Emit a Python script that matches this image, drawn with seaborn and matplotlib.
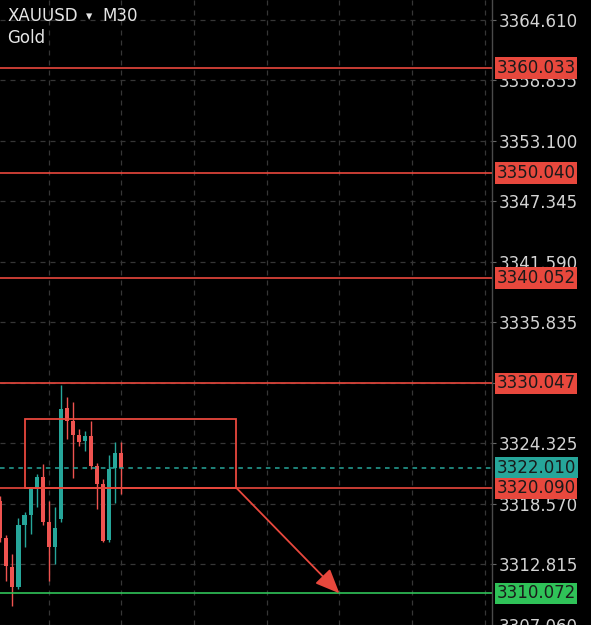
import numpy as np
import pandas as pd
import seaborn as sns
import matplotlib.pyplot as plt
from matplotlib.patches import Rectangle
import matplotlib.transforms as mtransforms

# Candles (30 min)
opens = [3318.84, 3315.32, 3312.57, 3310.67, 3316.56, 3317.50, 3319.97, 3321.10, 3316.84, 3314.47, 3317.13,
         3327.67, 3326.43, 3325.10, 3324.53, 3325.00, 3322.16, 3320.45, 3315.13, 3321.97, 3323.39]
highs = [3319.30, 3315.60, 3313.80, 3317.20, 3317.80, 3320.20, 3321.40, 3322.35, 3318.84, 3318.26, 3329.85,
         3328.71, 3328.24, 3325.70, 3325.48, 3326.43, 3322.50, 3320.90, 3323.20, 3324.44, 3324.44]
lows = [3315.00, 3311.24, 3308.90, 3310.50, 3314.47, 3315.70, 3318.30, 3316.60, 3311.24, 3312.85, 3316.84,
        3324.72, 3321.00, 3324.06, 3323.58, 3321.90, 3318.08, 3314.94, 3315.00, 3318.65, 3319.50]
closes = [3315.32, 3312.66, 3310.67, 3316.56, 3317.50, 3319.97, 3321.10, 3316.84, 3314.47, 3316.27, 3327.57,
          3326.43, 3325.10, 3324.44, 3325.00, 3322.16, 3320.45, 3315.04, 3321.87, 3323.39, 3322.01]

# Levels drawn on the chart
red_levels = [3360.033, 3350.040, 3340.052, 3330.047, 3320.090]
support_level = 3310.072
last_price = 3322.010

# Price scale ticks
tick_values = [3364.610, 3358.855, 3353.100, 3347.345, 3341.590, 3335.835,
               3330.080, 3324.325, 3318.570, 3312.815, 3307.060]

# Box + arrow drawing (bar index, price)
box_x = [4, 39]
box_y = [3320.090, 3326.620]
arrow_end = (56, 3310.072)

RED = "#ef5350"
LINE_RED = "#e8483d"
TEAL = "#26a69a"
GREEN = "#2fc258"
GRID = "#363636"
TXT = "#d4d4d4"

sns.set_theme(style="dark", rc={"axes.facecolor": "black", "figure.facecolor": "black",
                                 "axes.edgecolor": "#555555"})
plt.rcParams['font.family'] = ['DejaVu Sans']

df = pd.DataFrame({'open': opens, 'high': highs, 'low': lows, 'close': closes})
df['id'] = np.arange(len(df))
df['up'] = df['close'] >= df['open']
df['color'] = np.where(df['up'], TEAL, RED)

fig = plt.figure(figsize=(5.91, 6.25), dpi=100)
ax = fig.add_axes([0, 0, 492 / 591, 1])
ax.set_facecolor("black")

# grid
for gx in range(8, 82, 12):
    ax.axvline(gx, color=GRID, lw=0.9, ls=(0, (4, 4)), zorder=0)
for ty in tick_values:
    ax.axhline(ty, color=GRID, lw=0.9, ls=(0, (4, 4)), zorder=0)

# wicks + bodies
ax.vlines(df['id'], df['low'], df['high'], colors=df['color'], lw=1.0, zorder=2)
body_lo = df[['open', 'close']].min(axis=1)
body_h = (df['open'] - df['close']).abs().clip(lower=0.08)
ax.bar(df['id'], body_h, bottom=body_lo, width=0.68, color=df['color'], linewidth=0, zorder=3)

# horizontal levels
for lv in red_levels:
    ax.axhline(lv, color=LINE_RED, lw=1.2, zorder=4)
ax.axhline(support_level, color=GREEN, lw=1.2, zorder=4)
ax.axhline(last_price, color=TEAL, lw=1.1, ls=(0, (3, 3)), zorder=4)

# box + arrow
ax.add_patch(Rectangle((box_x[0], box_y[0]), box_x[1] - box_x[0], box_y[1] - box_y[0],
                       fill=False, edgecolor=LINE_RED, lw=1.3, zorder=5))
ax.annotate("", xy=arrow_end, xytext=(box_x[1], box_y[0]),
            arrowprops=dict(arrowstyle='-|>,head_length=0.75,head_width=0.32', color=LINE_RED, lw=1.3,
                            mutation_scale=20, shrinkA=0, shrinkB=0), zorder=5)

ax.set_xlim(-0.05, 81.2)
ax.set_ylim(3307.155, 3366.51)
ax.set_xticks([])
ax.yaxis.tick_right()
ax.set_yticks(tick_values)
ax.set_yticklabels(["{:.3f}".format(v) for v in tick_values])
ax.tick_params(axis='y', colors="#666666", labelcolor=TXT, labelsize=12, length=3, width=0.8,
               pad=1.5, right=True, left=False)
for side in ['top', 'left', 'bottom']:
    ax.spines[side].set_visible(False)
ax.spines['right'].set_color("#4a4a4a")
ax.spines['right'].set_linewidth(1.0)

# price labels on the scale
trans = mtransforms.blended_transform_factory(ax.transAxes, ax.transData)
labels = [(lv, LINE_RED) for lv in red_levels] + [(last_price, TEAL), (support_level, GREEN)]
for lv, col in labels:
    ax.text(1.0 + 4.5 / 492, lv, "{:.3f}".format(lv), transform=trans, ha='left', va='center',
            fontsize=12, color="#1a1a1a", clip_on=False, zorder=10,
            bbox=dict(boxstyle='square,pad=0.1', fc=col, ec='none'))

# symbol header
fig.text(7 / 591, 1 - 21 / 625, "XAUUSD", color="#e6e6e6", fontsize=12, ha='left', va='baseline')
fig.text(86 / 591, 1 - 20 / 625, "\u25BE", color="#e6e6e6", fontsize=9, ha='left', va='baseline')
fig.text(102 / 591, 1 - 21 / 625, "M30", color="#e6e6e6", fontsize=12, ha='left', va='baseline')
fig.text(7 / 591, 1 - 43 / 625, "Gold", color="#e6e6e6", fontsize=12, ha='left', va='baseline')

fig.savefig("out.png", dpi=100, facecolor="black")
